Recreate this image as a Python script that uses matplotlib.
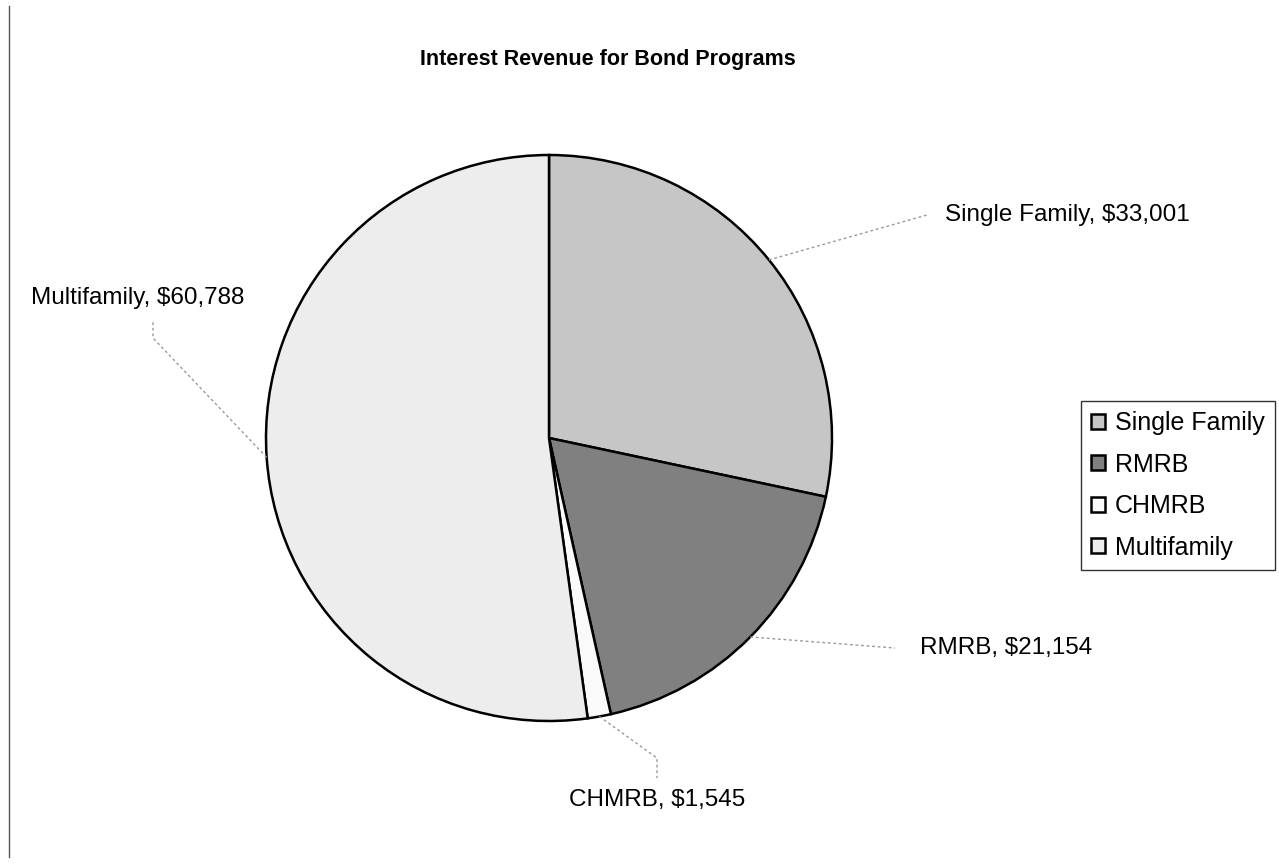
import numpy as np
import matplotlib.pyplot as plt
from matplotlib.lines import Line2D

plt.rcParams['font.family'] = ['Liberation Sans', 'DejaVu Sans']

categories = ["Single Family", "RMRB", "CHMRB", "Multifamily"]
revenue = [33001, 21154, 1545, 60788]
fills = ["#c6c6c6", "#808080", "#fafafa", "#ededed"]

W, H = 1279, 865
fig = plt.figure(figsize=(W / 100, H / 100), dpi=100)

# pie centre / radius in pixels, axes units = pixels around the centre
cx, cy, R = 549, 438, 283
ax = fig.add_axes([(cx - 300) / W, (H - cy - 300) / H, 600 / W, 600 / H])
wedges, _ = ax.pie(revenue, colors=fills, startangle=90, counterclock=False,
                   radius=R, wedgeprops=dict(edgecolor="black", linewidth=1.8))
ax.set_xlim(-300, 300)
ax.set_ylim(-300, 300)
ax.axis("off")

# label placement and leader line bends (pixel offsets from centre)
label_pos = [(396, 223), (371, -210), (108, -362), (-411, 140)]
label_ha = ["left", "left", "center", "center"]
leader_pts = [[(378, 223)], [(346, -210)], [(108, -320), (108, -340)],
              [(-396, 100), (-396, 116)]]

for w, name, val, pos, ha, pts in zip(wedges, categories, revenue, label_pos, label_ha, leader_pts):
    mid = np.deg2rad((w.theta1 + w.theta2) / 2)
    xs = [R * np.cos(mid)] + [p[0] for p in pts]
    ys = [R * np.sin(mid)] + [p[1] for p in pts]
    ax.plot(xs, ys, color="#999999", lw=1, ls=(0, (2, 2)), clip_on=False)
    ax.text(pos[0], pos[1], f"{name}, ${val:,}", ha=ha, va="center",
            fontsize=17.5, clip_on=False)

fig.text(608 / W, 1 - 60 / H, "Interest Revenue for Bond Programs",
         ha="center", va="center", fontsize=15.5, fontweight="bold")

leg = fig.legend(wedges, categories, loc="upper left",
                 bbox_to_anchor=(1081 / W, 1 - 401 / H), fontsize=18,
                 frameon=True, fancybox=False, edgecolor="black",
                 handlelength=0.55, handleheight=0.55, handletextpad=0.4,
                 labelspacing=0.7, borderpad=0.4, borderaxespad=0)
leg.get_frame().set_linewidth(1)

fig.add_artist(Line2D([9 / W, 9 / W], [1 - 6 / H, 1 - 857 / H],
                      color="#555555", lw=1))

fig.savefig("out.png", dpi=100)
